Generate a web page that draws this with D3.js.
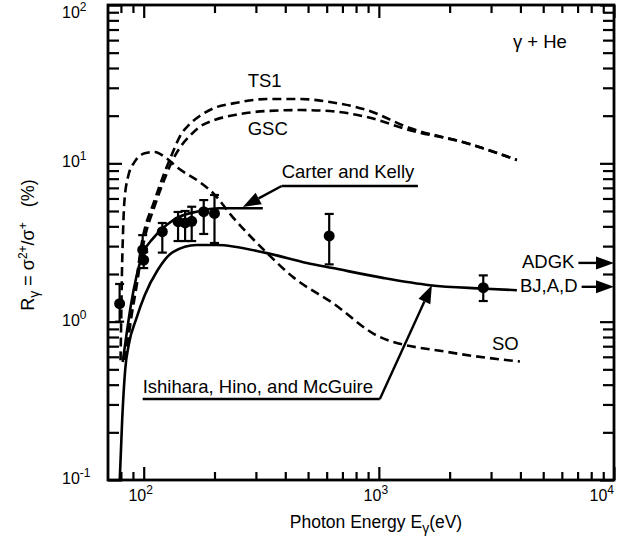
<!DOCTYPE html>
<html>
<head>
<meta charset="utf-8">
<script src="https://cdn.jsdelivr.net/npm/d3@7"></script>
<style>
  body { margin: 0; background: #fff; }
  text { font-family: "Liberation Sans", Arial, Helvetica, sans-serif; fill: #000; }
</style>
</head>
<body>
<svg id="chart" width="624" height="544"></svg>
<script>
// measured points (photon energy in eV, ratio in %)
var energy  = [79, 99, 100, 120, 140, 150, 160, 180, 200, 615, 2780];
var ratio   = [1.30, 2.84, 2.45, 3.70, 4.28, 4.20, 4.30, 4.95, 4.83, 3.48, 1.64];
var errLow  = [1.00, 2.50, 2.18, 2.73, 3.23, 3.23, 3.23, 3.58, 3.14, 2.30, 1.35];
var errHigh = [1.73, 3.52, 2.75, 4.20, 4.93, 5.00, 5.32, 5.86, 6.31, 4.79, 1.96];

// theory curves
var ts1E = [83, 85.5, 88, 92.5, 97.8, 111.4, 122.9, 131.5, 142.2, 157, 173, 200, 244, 334, 461, 619, 889, 1355, 2368, 3864];
var ts1R = [0.573, 0.766, 1.10, 1.70, 3.05, 5.87, 8.81, 11.3, 14.7, 17.7, 19.9, 22.4, 24.0, 25.5, 25.5, 24.4, 21.7, 16.7, 13.4, 10.5];

var gscE = [83, 85.5, 88.9, 93.4, 99, 112.5, 124.1, 132.8, 142.2, 157, 173, 200, 244, 334, 461, 619, 889, 1355, 2368, 3864];
var gscR = [0.573, 0.744, 1.10, 1.70, 2.92, 5.62, 8.32, 10.5, 12.5, 14.9, 17.0, 18.8, 20.2, 21.4, 21.7, 21.4, 19.6, 16.2, 13.4, 10.5];

var soE = [79.7, 80.2, 80.8, 81.6, 82.6, 85.8, 91.6, 101, 111, 125, 140, 173, 197, 239, 334, 430, 637, 1010, 2005, 3980];
var soR = [0.57, 1.0, 2.0, 3.5, 5.5, 8.23, 10.24, 11.57, 11.8, 10.76, 9.34, 7.62, 6.50, 4.58, 2.72, 1.92, 1.31, 0.80, 0.64, 0.56];

var carterE = [81.4, 84.4, 88.2, 93.1, 99.3, 109.6, 125, 142, 168, 210, 321];
var carterR = [0.556, 0.82, 1.27, 1.92, 2.70, 3.36, 4.08, 4.60, 4.95, 5.2, 5.2];

var ihmE = [79.1, 81.0, 83.4, 86.3, 93.1, 101, 114.7, 133, 168, 204, 334, 494, 637, 1040, 1648, 2690, 3865];
var ihmR = [0.1, 0.24, 0.495, 0.71, 1.05, 1.47, 2.12, 2.75, 3.05, 3.05, 2.71, 2.35, 2.18, 1.89, 1.70, 1.62, 1.58];

var xMajor = [100, 1000, 10000];
var yMajor = [0.1, 1, 10, 100];

var svg = d3.select("#chart");
var pLeft = 108, pRight = 614, pTop = 5, pBottom = 480;
var ink = "#000";

var x = d3.scaleLog().domain([70.5, 10000]).range([pLeft, pRight]);
var y = d3.scaleLog().domain([0.1, 100]).range([pBottom, pTop]);

function minorTicks(lo, hi) {
  var out = [];
  for (var e = lo; e < hi; e++) {
    for (var m = 1; m < 10; m++) {
      out.push(+(m * Math.pow(10, e)).toPrecision(3));
    }
  }
  return out;
}
var xMinor = minorTicks(1, 4).filter(function(v) { return v > 71 && xMajor.indexOf(v) < 0; });
var yMinor = minorTicks(-1, 2).filter(function(v) { return yMajor.indexOf(v) < 0; });

function tickGroup(axis, tx, ty) {
  svg.append("g")
    .attr("transform", "translate(" + tx + "," + ty + ")")
    .call(axis.tickFormat("").tickSizeOuter(0))
    .call(function(g) {
      g.select(".domain").remove();
      g.selectAll(".tick line").attr("stroke", ink).attr("stroke-width", 2.2);
    });
}
tickGroup(d3.axisBottom(x).tickValues(xMinor).tickSizeInner(-8), 0, pBottom);
tickGroup(d3.axisBottom(x).tickValues(xMajor).tickSizeInner(-13), 0, pBottom);
tickGroup(d3.axisTop(x).tickValues(xMinor).tickSizeInner(-8), 0, pTop);
tickGroup(d3.axisTop(x).tickValues(xMajor).tickSizeInner(-13), 0, pTop);
tickGroup(d3.axisLeft(y).tickValues(yMinor).tickSizeInner(-11), pLeft, 0);
tickGroup(d3.axisLeft(y).tickValues(yMajor).tickSizeInner(-14), pLeft, 0);
tickGroup(d3.axisRight(y).tickValues(yMinor).tickSizeInner(-11), pRight, 0);
tickGroup(d3.axisRight(y).tickValues(yMajor).tickSizeInner(-14), pRight, 0);

svg.append("rect")
  .attr("x", pLeft).attr("y", pTop)
  .attr("width", pRight - pLeft).attr("height", pBottom - pTop)
  .attr("fill", "none").attr("stroke", ink).attr("stroke-width", 2.8);

// tick labels as 10^n
function powerLabel(sel, n) {
  sel.append("tspan").text("10");
  sel.append("tspan").attr("dy", -7).attr("font-size", 12).text(String(n));
}
yMajor.forEach(function(v) {
  var t = svg.append("text")
    .attr("x", 62)
    .attr("y", Math.max(y(v) + 4, 18))
    .attr("font-size", 16);
  powerLabel(t, Math.round(Math.log10(v)));
});
xMajor.forEach(function(v, i) {
  var last = i == xMajor.length - 1;
  var t = svg.append("text")
    .attr("x", last ? pRight : x(v) - 3)
    .attr("y", 501)
    .attr("text-anchor", last ? "end" : "middle")
    .attr("font-size", 16);
  powerLabel(t, Math.round(Math.log10(v)));
});

// axis titles
var xt = svg.append("text").attr("x", 376).attr("y", 528)
  .attr("text-anchor", "middle").attr("font-size", 17.5);
xt.append("tspan").text("Photon Energy E");
xt.append("tspan").attr("dy", 5).attr("font-size", 14).text("γ");
xt.append("tspan").attr("dy", -5).text("(eV)");

var yt = svg.append("text").attr("transform", "translate(34,245) rotate(-90)")
  .attr("text-anchor", "middle").attr("font-size", 18);
yt.append("tspan").text("R");
yt.append("tspan").attr("dy", 5).attr("font-size", 14).text("γ");
yt.append("tspan").attr("dy", -5).text(" = σ");
yt.append("tspan").attr("dy", -7).attr("font-size", 12).text("2+");
yt.append("tspan").attr("dy", 7).text("/σ");
yt.append("tspan").attr("dy", -7).attr("font-size", 12).text("+");
yt.append("tspan").attr("dy", 7).text("\u00a0\u00a0\u00a0(%)");

// curves
svg.append("clipPath").attr("id", "clip").append("rect")
  .attr("x", pLeft).attr("y", pTop).attr("width", pRight - pLeft).attr("height", pBottom - pTop);

var line = d3.line()
  .x(function(d) { return x(d[0]); })
  .y(function(d) { return y(d[1]); })
  .curve(d3.curveMonotoneX);

var curves = [
  {e: ts1E, r: ts1R, dash: "9,5"},
  {e: gscE, r: gscR, dash: "9,5"},
  {e: soE, r: soR, dash: "9,5"},
  {e: carterE, r: carterR, dash: null},
  {e: ihmE, r: ihmR, dash: null}
];
var plot = svg.append("g").attr("clip-path", "url(#clip)");
curves.forEach(function(c) {
  plot.append("path")
    .datum(d3.zip(c.e, c.r))
    .attr("d", line)
    .attr("fill", "none")
    .attr("stroke", ink)
    .attr("stroke-width", 2.6)
    .attr("stroke-dasharray", c.dash);
});

// data points with error bars
var pts = svg.append("g").selectAll("g").data(energy).enter().append("g");
pts.append("line")
  .attr("x1", function(d) { return x(d); }).attr("x2", function(d) { return x(d); })
  .attr("y1", function(d, i) { return y(errLow[i]); })
  .attr("y2", function(d, i) { return y(errHigh[i]); })
  .attr("stroke", ink).attr("stroke-width", 2.2);
[errLow, errHigh].forEach(function(arr) {
  pts.append("line")
    .attr("x1", function(d) { return x(d) - 4.5; }).attr("x2", function(d) { return x(d) + 4.5; })
    .attr("y1", function(d, i) { return y(arr[i]); })
    .attr("y2", function(d, i) { return y(arr[i]); })
    .attr("stroke", ink).attr("stroke-width", 2.2);
});
pts.append("circle")
  .attr("cx", function(d) { return x(d); })
  .attr("cy", function(d, i) { return y(ratio[i]); })
  .attr("r", 5.5).attr("fill", ink);

// annotations
function label(txt, e, r, size) {
  return svg.append("text").attr("x", x(e)).attr("y", y(r))
    .attr("font-size", size || 18.5).text(txt);
}
function arrow(x1, y1, x2, y2) {
  var len = 18, hw = 6.5;
  var a = Math.atan2(y2 - y1, x2 - x1);
  var bx = x2 - len * Math.cos(a), by = y2 - len * Math.sin(a);
  svg.append("line").attr("x1", x1).attr("y1", y1).attr("x2", bx).attr("y2", by)
    .attr("stroke", ink).attr("stroke-width", 2.4);
  svg.append("path")
    .attr("d", "M" + x2 + "," + y2 +
      "L" + (bx + hw * Math.sin(a)) + "," + (by - hw * Math.cos(a)) +
      "L" + (bx - hw * Math.sin(a)) + "," + (by + hw * Math.cos(a)) + "Z")
    .attr("fill", ink);
}

label("TS1", 277, 30.3);
label("GSC", 277, 15.1);
label("SO", 3027, 0.662);
label("γ + He", 3715, 53.5);

// Carter and Kelly
label("Carter and Kelly", 386, 8.07);
svg.append("line").attr("x1", x(386)).attr("x2", x(1466))
  .attr("y1", y(7.19)).attr("y2", y(7.19)).attr("stroke", ink).attr("stroke-width", 2.4);
arrow(x(386), y(7.19), x(264), y(5.3));

// Ishihara, Hino, and McGuire
label("Ishihara, Hino, and McGuire", 99, 0.354);
svg.append("line").attr("x1", x(99)).attr("x2", x(1010))
  .attr("y1", y(0.325)).attr("y2", y(0.325)).attr("stroke", ink).attr("stroke-width", 2.4);
arrow(x(1010), y(0.325), x(1681), y(1.70));

// limits on right edge
[["ADGK", 4060, 2.18, 2.35], ["BJ,A,D", 3984, 1.54, 1.66]].forEach(function(a) {
  var t = label(a[0], a[1], a[2]);
  var end = x(a[1]) + t.node().getComputedTextLength();
  arrow(end + 4, y(a[3]), pRight, y(a[3]));
});
</script>
</body>
</html>
